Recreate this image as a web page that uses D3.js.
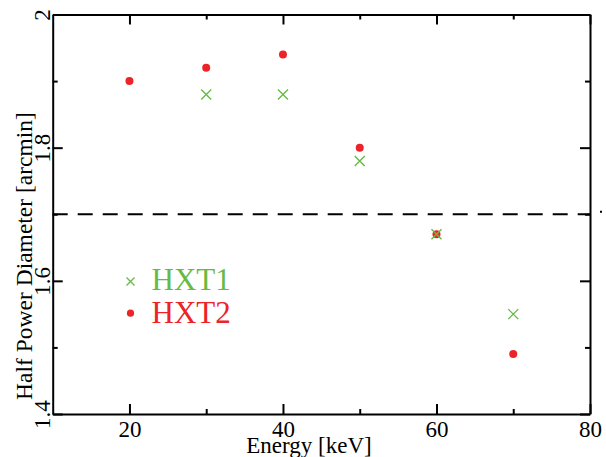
<!DOCTYPE html>
<html>
<head>
<meta charset="utf-8">
<script src="https://cdn.jsdelivr.net/npm/d3@7"></script>
<style>
  html, body { margin: 0; padding: 0; background: #fff; }
  svg { display: block; }
  text { font-family: "Liberation Serif", "Times New Roman", serif; }
</style>
</head>
<body>
<svg id="chart" width="606" height="457"></svg>
<script>
// Energy grid and measured half power diameters for the two telescopes
const hxt1Energy = [30, 40, 50, 60, 70];
const hxt1Hpd    = [1.88, 1.88, 1.78, 1.67, 1.55];
const hxt2Energy = [20, 30, 40, 50, 60, 70];
const hxt2Hpd    = [1.90, 1.92, 1.94, 1.80, 1.67, 1.49];
const requirementHpd = 1.7;

const xMajorTicks = [20, 40, 60, 80];
const xMinorTicks = [30, 50, 70];
const yMajorTicks = [1.4, 1.6, 1.8, 2.0];
const yMinorTicks = [1.5, 1.7, 1.9];
const yTickLabels = ["1.4", "1.6", "1.8", "2"];

const seriesNames  = ["HXT1", "HXT2"];
const seriesColors = ["#66bb44", "#ec2328"];

const svg = d3.select("#chart");
const margin = { left: 52.7, right: 16, top: 14.5, bottom: 43 };
const W = 606, H = 457;

const x = d3.scaleLinear().domain([10, 80]).range([margin.left, W - margin.right]);
const y = d3.scaleLinear().domain([1.4, 2.0]).range([H - margin.bottom, margin.top]);

const x0 = x.range()[0], x1 = x.range()[1];
const y0 = y.range()[0], y1 = y.range()[1];

// Axes: ticks on all four sides, pointing into the frame
function styleAxis(g) {
  g.select(".domain").attr("stroke", "#000").attr("stroke-width", 2);
  g.selectAll(".tick line").attr("stroke", "#000").attr("stroke-width", 2);
}

function addAxis(gen, tx, ty, withLabels) {
  const g = svg.append("g").attr("transform", `translate(${tx},${ty})`).call(gen);
  styleAxis(g);
  if (!withLabels) g.selectAll(".tick text").remove();
  return g;
}

// bottom
const bottom = addAxis(d3.axisBottom(x).tickValues(xMajorTicks).tickSizeInner(-10).tickSizeOuter(0).tickFormat(d3.format("d")), 0, y0, true);
bottom.selectAll(".tick text")
  .attr("y", 23).attr("dy", 0)
  .attr("fill", "#000").attr("font-size", 23)
  .style("font-family", "Liberation Serif");
addAxis(d3.axisBottom(x).tickValues(xMinorTicks).tickSizeInner(-5).tickSizeOuter(0), 0, y0, false)
  .select(".domain").remove();

// top
addAxis(d3.axisTop(x).tickValues(xMajorTicks).tickSizeInner(-10).tickSizeOuter(0), 0, y1, false);
addAxis(d3.axisTop(x).tickValues(xMinorTicks).tickSizeInner(-5).tickSizeOuter(0), 0, y1, false)
  .select(".domain").remove();

// left
const left = addAxis(d3.axisLeft(y).tickValues(yMajorTicks).tickSizeInner(-10).tickSizeOuter(0)
  .tickFormat((d, i) => yTickLabels[i]), x0, 0, true);
left.selectAll(".tick text")
  .attr("x", null).attr("dy", null)
  .attr("text-anchor", "middle")
  .attr("transform", "translate(-3,0) rotate(-90)")
  .attr("fill", "#000").attr("font-size", 23)
  .style("font-family", "Liberation Serif");
addAxis(d3.axisLeft(y).tickValues(yMinorTicks).tickSizeInner(-5).tickSizeOuter(0), x0, 0, false)
  .select(".domain").remove();

// right
addAxis(d3.axisRight(y).tickValues(yMajorTicks).tickSizeInner(-10).tickSizeOuter(0), x1, 0, false);
addAxis(d3.axisRight(y).tickValues(yMinorTicks).tickSizeInner(-5).tickSizeOuter(0), x1, 0, false)
  .select(".domain").remove();

// Axis titles
svg.append("text")
  .attr("x", 309).attr("y", 453)
  .attr("text-anchor", "middle").attr("font-size", 23)
  .text("Energy [keV]");

svg.append("text")
  .attr("transform", `translate(32,256) rotate(-90)`)
  .attr("text-anchor", "middle").attr("font-size", 23.5)
  .text("Half Power Diameter [arcmin]");

// Requirement line
svg.append("line")
  .attr("x1", x(10)).attr("x2", x(80))
  .attr("y1", y(requirementHpd)).attr("y2", y(requirementHpd))
  .attr("stroke", "#000").attr("stroke-width", 2)
  .attr("stroke-dasharray", "15,10");
svg.append("rect")
  .attr("x", x(80) + 10).attr("y", y(requirementHpd) - 3.5)
  .attr("width", 2).attr("height", 2).attr("fill", "#000");

// Markers
const crossPath = s => `M${-s},${-s}L${s},${s}M${-s},${s}L${s},${-s}`;

svg.append("g").selectAll("circle")
  .data(hxt2Energy.map((e, i) => [e, hxt2Hpd[i]]))
  .join("circle")
  .attr("cx", d => x(d[0])).attr("cy", d => y(d[1]))
  .attr("r", 4).attr("fill", seriesColors[1]);

svg.append("g").selectAll("path")
  .data(hxt1Energy.map((e, i) => [e, hxt1Hpd[i]]))
  .join("path")
  .attr("transform", d => `translate(${x(d[0])},${y(d[1])})`)
  .attr("d", crossPath(5))
  .attr("stroke", seriesColors[0]).attr("stroke-width", 1.4).attr("fill", "none");

// Legend
const legend = svg.append("g");
const legendRows = [290, 322.7];
seriesNames.forEach((name, i) => {
  const row = legend.append("g").attr("transform", `translate(130.5,${legendRows[i]})`);
  if (i === 0) {
    row.append("path").attr("transform", "translate(0,-8.5)").attr("d", crossPath(4))
      .attr("stroke", seriesColors[0]).attr("stroke-width", 1.3).attr("fill", "none");
  } else {
    row.append("circle").attr("cx", 0).attr("cy", -9.5).attr("r", 3.6).attr("fill", seriesColors[1]);
  }
  row.append("text").attr("x", 21).attr("y", 0)
    .attr("font-size", 31).attr("fill", seriesColors[i]).text(name);
});
</script>
</body>
</html>
